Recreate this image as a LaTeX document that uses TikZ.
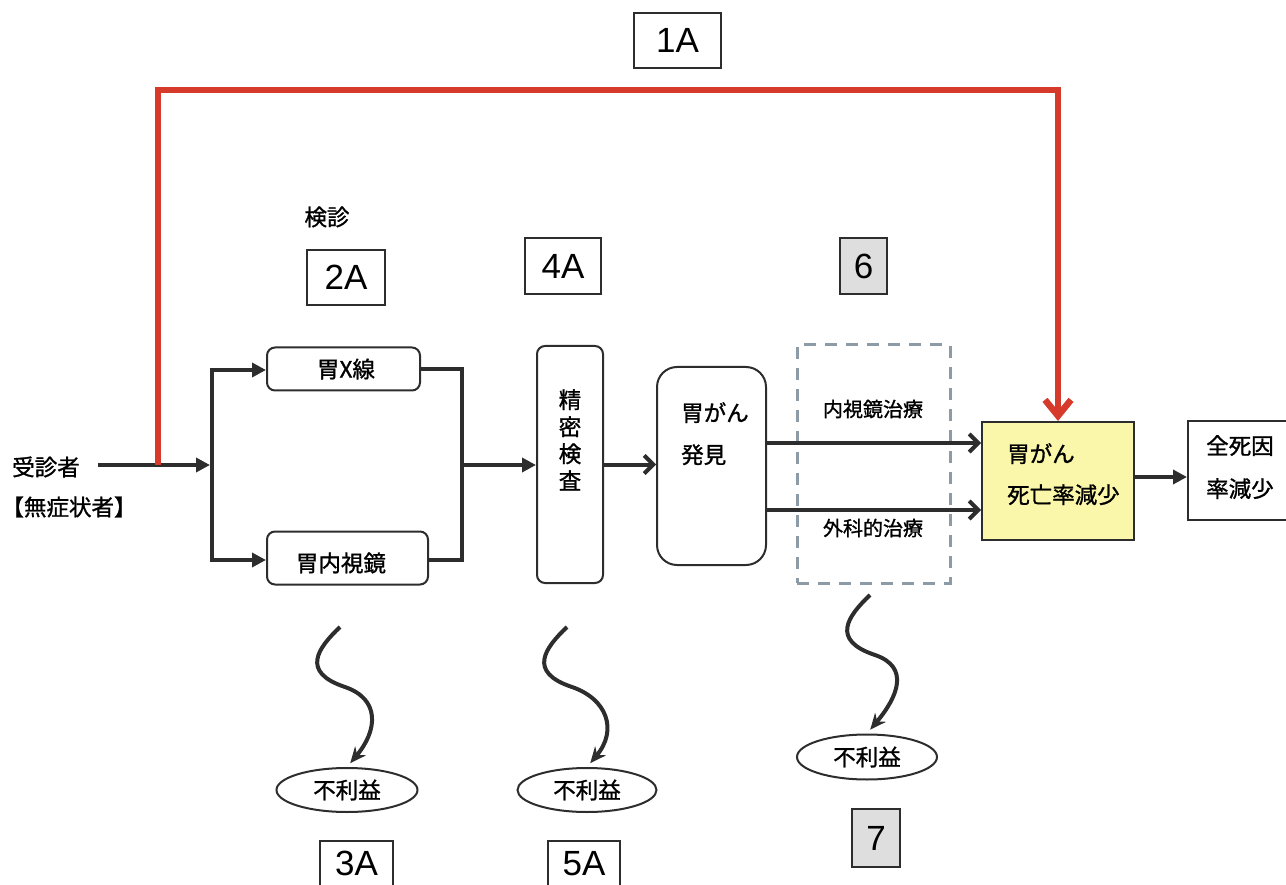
\documentclass[tikz,border=0pt]{standalone}
\usepackage{fontspec}
\setmainfont{Liberation Sans}
\newfontfamily\jp{Noto Sans CJK JP}[FakeBold=1.2]
\usetikzlibrary{arrows.meta,shapes.geometric}
\definecolor{redline}{RGB}{214,58,42}
\definecolor{ink}{RGB}{45,45,45}
\definecolor{dashgray}{RGB}{140,155,165}
\definecolor{boxgray}{RGB}{222,222,222}
\definecolor{paleyellow}{RGB}{250,246,170}
\begin{document}
\begin{tikzpicture}[x=1pt,y=-1pt,
  jt/.style={font=\jp\fontsize{22.5}{27}\selectfont, inner sep=0pt},
  jts/.style={font=\jp\fontsize{20}{24}\selectfont, inner sep=0pt},
  numbox/.style={draw=ink, line width=1.6pt, font=\fontsize{35}{40}\selectfont, inner sep=0pt},
  rbox/.style={draw=ink, line width=2pt, rounded corners=8pt, inner sep=0pt},
  sbox/.style={draw=ink, line width=2pt, inner sep=0pt},
  oval/.style={draw=ink, line width=2pt, ellipse, inner sep=0pt, font=\jp\fontsize{22.5}{27}\selectfont},
  conn/.style={line width=4pt, draw=ink},
  tri/.style={-{Triangle[length=14pt,width=14pt]}},
  barb/.style={-{Straight Barb[length=9pt,width=18pt]}},
  redarrow/.style={line width=6.5pt, draw=redline, -{Straight Barb[length=16pt,width=26pt]}},
  wavy/.style={line width=4pt, draw=ink, -{Stealth[length=16pt,width=14pt]}, shorten >=5pt}
]
\useasboundingbox (0,0) rectangle (1286,885);

% number boxes
\node[numbox, minimum width=87pt, minimum height=55pt] (n1) at (677.5,40.5) {1A};
\node[numbox, minimum width=78pt, minimum height=55pt] (n2) at (346,277.5) {2A};
\node[numbox, minimum width=76pt, minimum height=56pt] (n4) at (563,266) {4A};
\node[numbox, fill=boxgray, minimum width=47pt, minimum height=56pt] (n6) at (863.5,266) {6};
\node[numbox, minimum width=73pt, minimum height=46pt, anchor=north] (n3) at (356.5,840) {3A};
\node[numbox, minimum width=72pt, minimum height=46pt, anchor=north] (n5) at (584,840) {5A};
\node[numbox, fill=boxgray, minimum width=48pt, minimum height=58pt] (n7) at (876,838) {7};

% texts
\node[jt] (kenshin) at (327,217) {検診};
\node[jt] (jushin) at (46,467) {受診者};
\node[jt] (mushou) at (69,507) {【無症状者】};

% boxes
\node[rbox, minimum width=153pt, minimum height=43pt] (xray) at (343.5,369) {};
\node[jt] (xraytxt) at (346,369) {胃X線};
\node[rbox, minimum width=161pt, minimum height=53pt] (endo) at (347.5,558) {};
\node[jt] (endotxt) at (341,563) {胃内視鏡};
\node[rbox, minimum width=66pt, minimum height=237pt] (seim) at (570,464.5) {};
\node[jt, align=center] (seimtxt) at (570,440) {精\\密\\検\\査};
\node[rbox, rounded corners=20pt, minimum width=109pt, minimum height=198pt] (hakken) at (711.5,466) {};
\node[jt, align=left, anchor=north west, font=\jp\fontsize{22.5}{42}\selectfont] (hakkentxt) at (681,402) {胃がん\\発見};

\node[draw=dashgray, line width=3pt, dash pattern=on 12pt off 9pt, minimum width=153pt, minimum height=238pt, inner sep=0pt] (tbox) at (873.5,464) {};
\node[jts] (naishi) at (873,409) {内視鏡治療};
\node[jts] (geka) at (873,528) {外科的治療};

\node[sbox, fill=paleyellow, minimum width=152pt, minimum height=118pt] (yellow) at (1058,481) {};
\node[jt, align=left, anchor=north west, font=\jp\fontsize{22.5}{41}\selectfont] (yellowtxt) at (1007,443) {胃がん\\死亡率減少};
\node[sbox, minimum width=112pt, minimum height=99pt] (zen) at (1244,470.5) {};
\node[jt, align=left, anchor=north west, font=\jp\fontsize{22.5}{43}\selectfont] (zentxt) at (1206,435) {全死因\\率減少};

% ellipses
\node[oval, minimum width=141pt, minimum height=44pt] (f1) at (347,790) {不利益};
\node[oval, minimum width=139pt, minimum height=44pt] (f2) at (587,790) {不利益};
\node[oval, minimum width=140pt, minimum height=45pt] (f3) at (867,757) {不利益};

% coordinates
\coordinate (fork) at (210,465);
\coordinate (forkT) at (212,370);
\coordinate (forkB) at (212,560);
\coordinate (merge) at (462,465);
\coordinate (rs) at (158,465);
\coordinate (rtop) at (0,90);
\coordinate (w1) at (340,627);
\coordinate (w2) at (567,627);
\coordinate (w3) at (870,595);
\coordinate (h1) at ([yshift=23pt]hakken.east);
\coordinate (h2) at ([yshift=-44pt]hakken.east);
\coordinate (y1) at ([yshift=4pt]yellow.east);

% connectors
\draw[conn, tri] (jushin.east) ++(18,-2) coordinate (js) (js) -- (fork);
\draw[conn, line cap=rect] (forkT) -- (forkB);
\draw[conn, tri] (forkT) -- (forkT -| xray.west);
\draw[conn, tri] (forkB) -- (forkB -| endo.west);
\draw[conn] (xray.east) -| (merge);
\draw[conn] (forkB -| endo.east) -| (merge);
\draw[conn, tri] (merge) -- (seim.west |- merge);
\draw[conn, barb] (seim.east) -- (seim.east -| hakken.west);
\draw[conn, barb] (h1) -- (h1 -| yellow.west);
\draw[conn, barb] (h2) -- (h2 -| yellow.west);
\draw[conn, tri] (y1) -- (y1 -| zen.west);

\draw[redarrow] (rs) -- (rs |- rtop) -| (yellow.north);

\draw[wavy] (w1) .. controls +(-22,21) and +(-45,-15) .. ++(5,60) .. controls +(35,12) and +(31,-37) .. (f1.north);
\draw[wavy] (w2) .. controls +(-22,21) and +(-45,-15) .. ++(5,60) .. controls +(35,12) and +(31,-37) .. (f2.north);
\draw[wavy] (w3) .. controls +(-22,21) and +(-45,-15) .. ++(5,60) .. controls +(35,12) and +(31,-37) .. (f3.north);
\end{tikzpicture}
\end{document}
